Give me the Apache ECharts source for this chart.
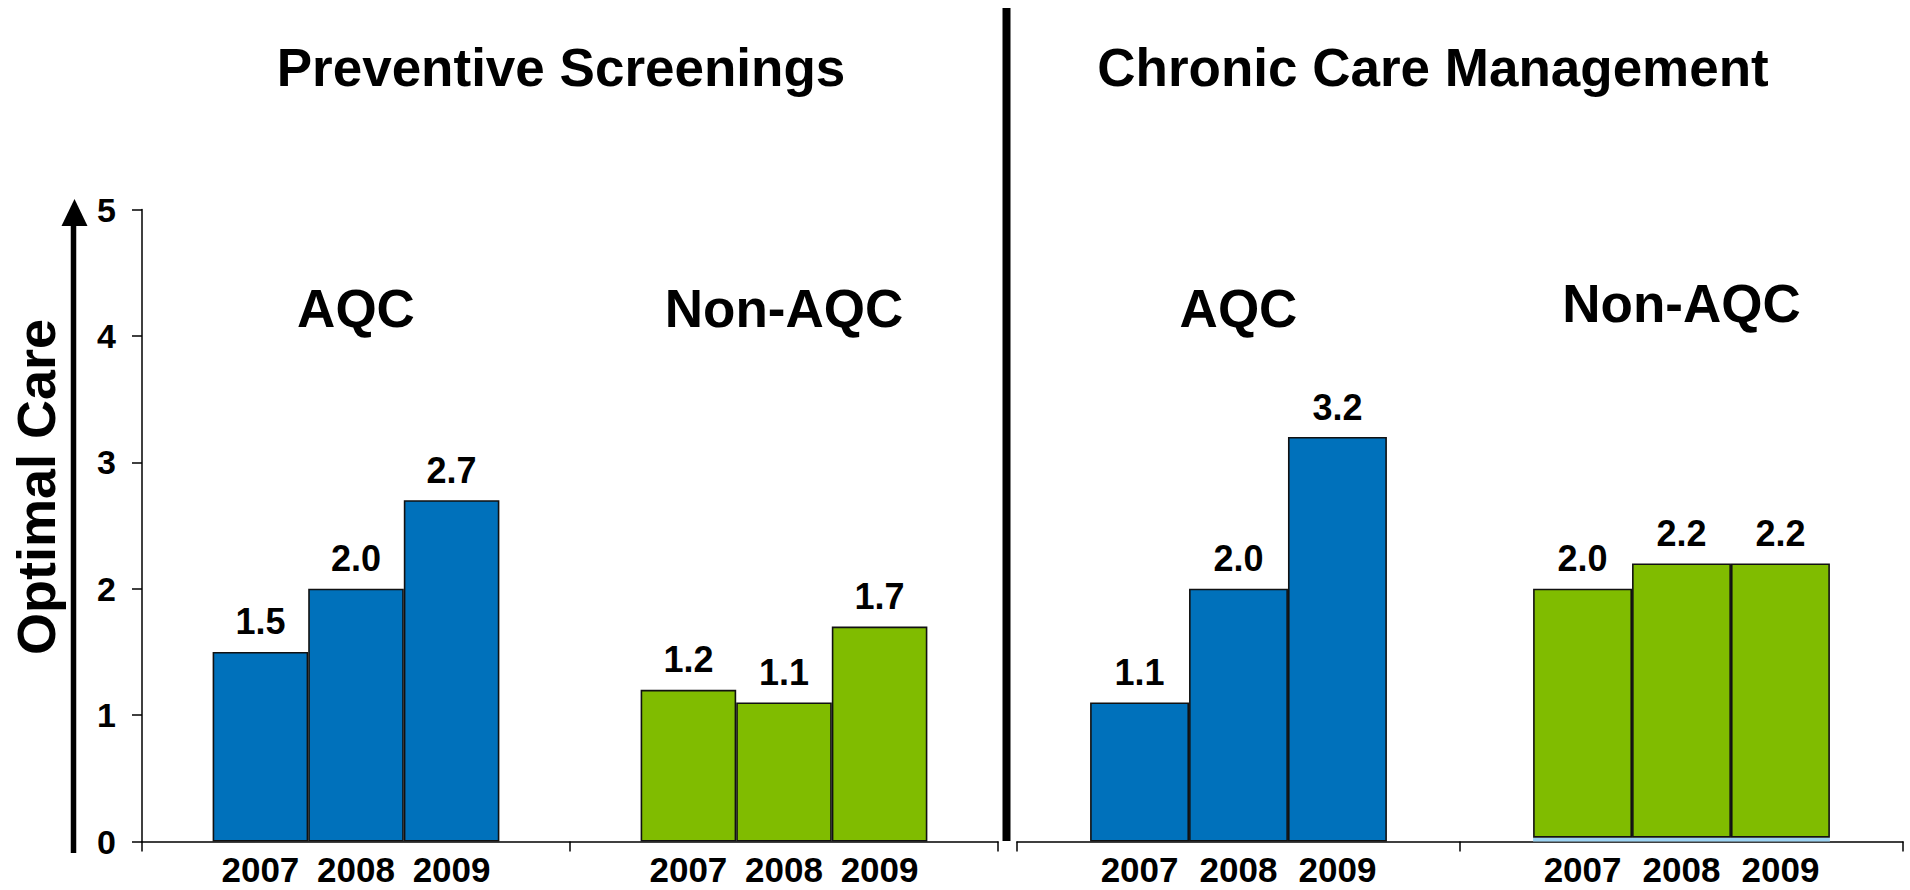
<!DOCTYPE html>
<html>
<head>
<meta charset="utf-8">
<title>Optimal Care</title>
<script src="https://cdn.jsdelivr.net/npm/echarts@6/dist/echarts.min.js"></script>
<style>
  html, body { margin: 0; padding: 0; background: #ffffff; }
  #chart { width: 1910px; height: 890px; }
</style>
</head>
<body>
<div id="chart"></div>
<script>
// ---- data ----
const years = ['2007', '2008', '2009'];
const groups = ['AQC', 'Non-AQC'];
const panelTitles = ['Preventive Screenings', 'Chronic Care Management'];
const preventiveAQC = [1.5, 2.0, 2.7];
const preventiveNonAQC = [1.2, 1.1, 1.7];
const chronicAQC = [1.1, 2.0, 3.2];
const chronicNonAQC = [2.0, 2.2, 2.2];
// thin light-blue base visible under the chronic Non-AQC bars
const chronicNonAQCBase = 0.03;
const yMin = 0;
const yMax = 5;
const yStep = 1;

// ---- styling ----
const FONT = "'Liberation Sans', Arial, Helvetica, sans-serif";
const BLUE = '#0071bb';
const GREEN = '#80bc00';
const STRIP = '#9cd3f2';
const INK = '#000000';

const panels = [
  { aqc: preventiveAQC, non: preventiveNonAQC, base: [0, 0] },
  { aqc: chronicAQC, non: chronicNonAQC, base: [0, chronicNonAQCBase] }
];

const grids = [
  { left: 142, right: 912, top: 209.5, bottom: 48.5 },
  { left: 1017, right: 7, top: 209.5, bottom: 48.5 }
];

const xAxes = grids.map((g, gi) => ({
  type: 'category',
  gridIndex: gi,
  data: groups,
  axisLine: { show: true, lineStyle: { color: INK, width: 1.5 } },
  axisTick: { show: true, length: 10, lineStyle: { color: INK, width: 1.5 } },
  axisLabel: { show: false }
}));

const yAxes = grids.map((g, gi) => ({
  type: 'value',
  gridIndex: gi,
  show: gi === 0,
  min: yMin,
  max: yMax,
  interval: yStep,
  splitLine: { show: false },
  axisLine: { show: true, lineStyle: { color: INK, width: 1.5 } },
  axisTick: { show: true, length: 10, lineStyle: { color: INK, width: 1.5 } },
  axisLabel: {
    margin: 26,
    color: INK,
    fontFamily: FONT,
    fontWeight: 'bold',
    fontSize: 34
  }
}));

const series = [];
panels.forEach((p, gi) => {
  years.forEach((yr, yi) => {
    const stackName = 'panel' + gi + '-' + yr;
    // base segment: carries the year label under each bar
    series.push({
      name: yr,
      type: 'bar',
      xAxisIndex: gi,
      yAxisIndex: gi,
      stack: stackName,
      barGap: '0%',
      barCategoryGap: '33%',
      data: p.base.slice(),
      itemStyle: { color: STRIP, borderWidth: 0 },
      label: {
        show: true,
        position: 'bottom',
        distance: 10,
        formatter: yr,
        color: INK,
        fontFamily: FONT,
        fontWeight: 'bold',
        fontSize: 35,
        lineHeight: 35
      },
      silent: true
    });
    // main bar: spans from the base up to the stated value
    const values = [p.aqc[yi], p.non[yi]];
    series.push({
      name: yr,
      type: 'bar',
      xAxisIndex: gi,
      yAxisIndex: gi,
      stack: stackName,
      barGap: '0%',
      barCategoryGap: '33%',
      data: values.map((v, k) => +(v - p.base[k]).toFixed(4)),
      itemStyle: {
        color: (params) => (params.dataIndex === 0 ? BLUE : GREEN),
        borderColor: '#111111',
        borderWidth: 1.6
      },
      label: {
        show: true,
        position: 'top',
        distance: 12,
        formatter: (params) => values[params.dataIndex].toFixed(1),
        color: INK,
        fontFamily: FONT,
        fontWeight: 'bold',
        fontSize: 36
      }
    });
  });
});

const chart = echarts.init(document.getElementById('chart'), null, { renderer: 'svg' });

const staticGraphics = [
  // vertical arrow beside the value axis
  { type: 'line', shape: { x1: 73.5, y1: 222, x2: 73.5, y2: 853 }, style: { stroke: INK, lineWidth: 5.5 } },
  { type: 'polygon', shape: { points: [[74.5, 199], [61.5, 226], [87.5, 226]] }, style: { fill: INK } },
  // divider between the two panels
  { type: 'rect', shape: { x: 1002.5, y: 8, width: 8, height: 833 }, style: { fill: INK } },
  // axis title
  {
    type: 'text', x: 36, y: 487, rotation: Math.PI / 2,
    style: {
      text: 'Optimal Care', fill: INK, font: 'bold 54px ' + FONT,
      textAlign: 'center', textVerticalAlign: 'middle'
    }
  },
  // panel titles
  {
    type: 'text', x: 561, y: 67,
    style: { text: panelTitles[0], fill: INK, font: 'bold 53px ' + FONT, textAlign: 'center', textVerticalAlign: 'middle' }
  },
  {
    type: 'text', x: 1433, y: 67,
    style: { text: panelTitles[1], fill: INK, font: 'bold 53px ' + FONT, textAlign: 'center', textVerticalAlign: 'middle' }
  }
];

chart.setOption({
  animation: false,
  backgroundColor: '#ffffff',
  grid: grids,
  xAxis: xAxes,
  yAxis: yAxes,
  series: series,
  graphic: staticGraphics
});

// group names placed over each category of each panel
const groupLabelY = [[308, 308], [308, 303]];
const groupLabels = [];
grids.forEach((g, gi) => {
  groups.forEach((name, k) => {
    const x = chart.convertToPixel({ xAxisIndex: gi }, name);
    groupLabels.push({
      type: 'text', x: x, y: groupLabelY[gi][k],
      style: { text: name, fill: INK, font: 'bold 53px ' + FONT, textAlign: 'center', textVerticalAlign: 'middle' }
    });
  });
});
chart.setOption({ graphic: staticGraphics.concat(groupLabels) });
</script>
</body>
</html>
